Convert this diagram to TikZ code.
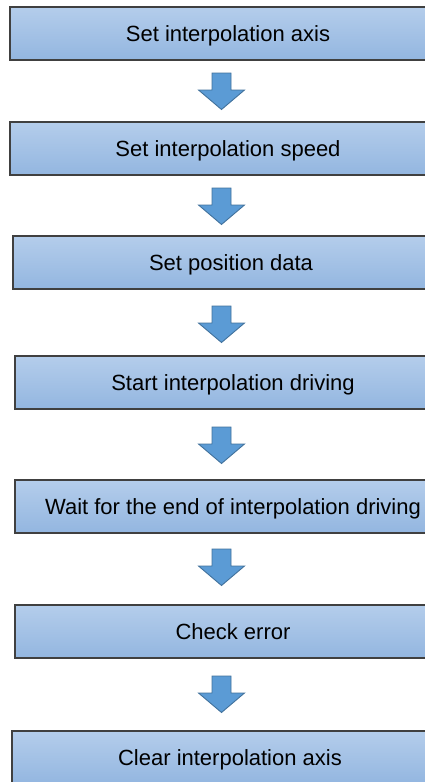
\documentclass[tikz,border=0pt]{standalone}
\usepackage{fontspec}
\setmainfont{Liberation Sans}
\definecolor{boxtop}{HTML}{B4CDEB}
\definecolor{boxbot}{HTML}{93B6E0}
\definecolor{boxline}{HTML}{404040}
\definecolor{arrfill}{HTML}{5B9BD5}
\definecolor{arrline}{HTML}{41719C}
\tikzset{
  stepbox/.style={rectangle, inner sep=0pt, minimum height=53pt,
    top color=boxtop, bottom color=boxbot, draw=boxline, line width=1.1pt,
    font=\fontsize{22pt}{26pt}\selectfont, text height=15.75pt, text depth=0pt},
  blockarrow/.style={fill=arrfill, draw=arrline, line width=0.9pt, line join=miter}
}
\newcommand\flowarrow[1]{%
  \draw[blockarrow] (#1) ++(-9.5,0) -- ++(19,0) -- ++(0,17) -- ++(13.5,0)
    -- ++(-23,19.5) -- ++(-23,-19.5) -- ++(13.5,0) -- cycle;}
\begin{document}
\begin{tikzpicture}[x=1pt,y=-1pt]
\useasboundingbox (0,0) rectangle (425,782);
\clip (0,0) rectangle (425,782);
\node[stepbox, minimum width=436pt] (b1) at (228,33.5) {Set interpolation axis};
\node[stepbox, minimum width=436pt] (b2) at (228,148.5) {Set interpolation speed};
\node[stepbox, minimum width=436pt] (b3) at (231,262.5) {Set position data};
\node[stepbox, minimum width=436pt] (b4) at (233,382.5) {Start interpolation driving};
\node[stepbox, minimum width=436pt] (b5) at (233,506.5) {Wait for the end of interpolation driving};
\node[stepbox, minimum width=436pt] (b6) at (233,631.5) {Check error};
\node[stepbox, minimum width=436pt] (b7) at (230,757.5) {Clear interpolation axis};
\coordinate (a1) at (221.5,73);
\coordinate (a2) at (221.5,188);
\coordinate (a3) at (221.5,306);
\coordinate (a4) at (221.5,427);
\coordinate (a5) at (221.5,549);
\coordinate (a6) at (221.5,676);
\flowarrow{a1}
\flowarrow{a2}
\flowarrow{a3}
\flowarrow{a4}
\flowarrow{a5}
\flowarrow{a6}
\end{tikzpicture}
\end{document}
